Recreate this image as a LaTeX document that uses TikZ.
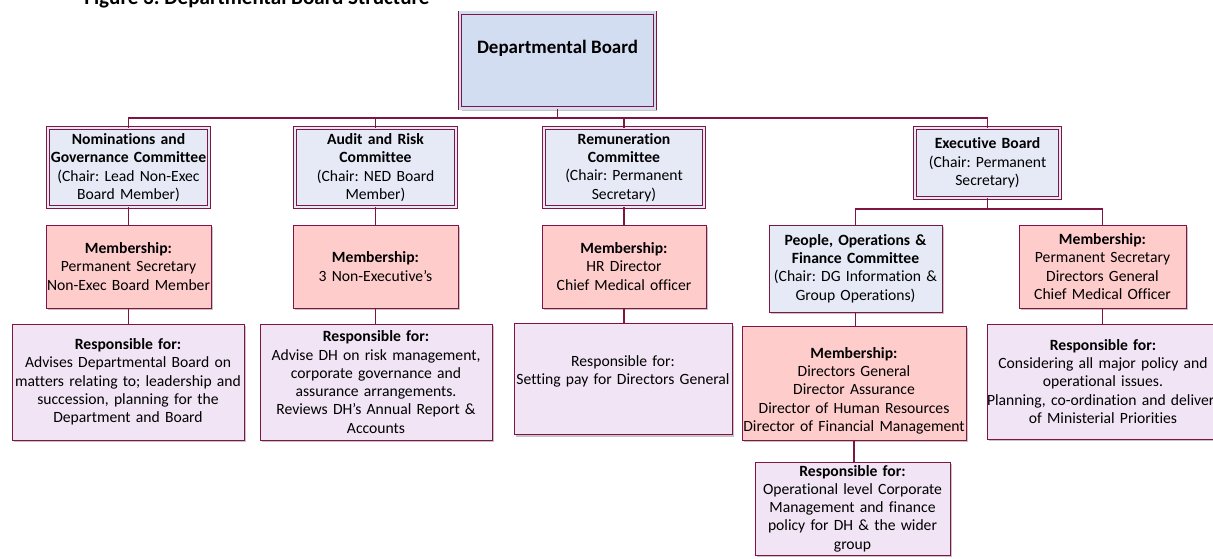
\documentclass[tikz,border=0pt]{standalone}
\usepackage{fontspec}
\setmainfont{Carlito}[Ligatures=NoCommon]
\usepackage{xcolor}
\usepackage{tikz}
\usetikzlibrary{shadows}

\definecolor{linkred}{RGB}{128,20,66}
\definecolor{boardblue}{RGB}{211,221,242}
\definecolor{cttblue}{RGB}{230,234,247}
\definecolor{mempink}{RGB}{255,204,204}
\definecolor{resplilac}{RGB}{241,228,245}
\frenchspacing

\begin{document}
\begin{tikzpicture}[x=0.02cm,y=-0.02cm,
font=\fontsize{8.9}{10.4}\selectfont,
every node/.style={inner sep=0pt,align=center},
base/.style={draw=linkred,line width=0.5pt,
  drop shadow={shadow xshift=1.4pt,shadow yshift=-1.4pt,fill=black!45}},
ctt/.style={base,fill=cttblue,double=cttblue,double distance=1.5pt},
sub/.style={base,fill=cttblue},
mem/.style={base,fill=mempink},
resp/.style={base,fill=resplilac},
link/.style={draw=linkred,line width=1.1pt}
]
\useasboundingbox (0,0) rectangle (1213,558);
\node[anchor=base west,font=\bfseries\fontsize{12}{14}\selectfont] (title) at (84,4.5) {Figure 3: Departmental Board Structure};

\node[ctt,fill=boardblue,double=boardblue,font=\bfseries\fontsize{10.8}{13}\selectfont,
  minimum width=3.9cm,text height=23.2pt,text depth=31.2pt] (dept) at (557.5,60.5) {Departmental Board};

\node[ctt,minimum width=3.22cm,minimum height=1.58cm,text width=3.2cm] (nom) at (128.5,167.5)
  {\textbf{Nominations and}\\\textbf{Governance Committee}\\(Chair: Lead Non-Exec\\Board Member)};
\node[ctt,minimum width=3.22cm,minimum height=1.58cm,text width=3.2cm] (audit) at (375.5,167.5)
  {\textbf{Audit and Risk}\\\textbf{Committee}\\(Chair: NED Board\\Member)};
\node[ctt,minimum width=3.2cm,minimum height=1.58cm,text width=3.18cm] (remun) at (624,167.5)
  {\textbf{Remuneration}\\\textbf{Committee}\\(Chair: Permanent\\Secretary)};
\node[ctt,minimum width=2.9cm,minimum height=1.4cm,text width=2.88cm] (exec) at (987.5,163)
  {\textbf{Executive Board}\\(Chair: Permanent\\Secretary)};

\node[mem,minimum width=3.3cm,minimum height=1.66cm,text width=3.3cm] (nommem) at (128.5,266.5)
  {\textbf{Membership:}\\Permanent Secretary\\Non-Exec Board Member};
\node[mem,minimum width=3.3cm,minimum height=1.66cm,text width=3.3cm] (auditmem) at (375.5,266.5)
  {\textbf{Membership:}\\3 Non-Executive’s};
\node[mem,minimum width=3.28cm,minimum height=1.66cm,text width=3.28cm] (remunmem) at (624,266.5)
  {\textbf{Membership:}\\HR Director\\Chief Medical officer};
\node[sub,minimum width=3.46cm,minimum height=1.74cm,text width=3.46cm] (pof) at (855.5,268.5)
  {\textbf{People, Operations \&}\\\textbf{Finance Committee}\\(Chair: DG Information \&\\Group Operations)};
\node[mem,minimum width=3.34cm,minimum height=1.66cm,text width=3.34cm] (exmem) at (1102.5,266.5)
  {\textbf{Membership:}\\Permanent Secretary\\Directors General\\Chief Medical Officer};

\node[resp,minimum width=4.64cm,minimum height=2.32cm,text width=4.64cm] (nomresp) at (128,382)
  {\textbf{Responsible for:}\\Advises Departmental Board on\\matters relating to; leadership and\\succession, planning for the\\Department and Board};
\node[resp,minimum width=4.64cm,minimum height=2.32cm,text width=4.64cm] (auditresp) at (376,382)
  {\textbf{Responsible for:}\\Advise DH on risk management,\\corporate governance and\\assurance arrangements.\\Reviews DH’s Annual Report \&\\Accounts};
\node[resp,minimum width=4.36cm,minimum height=2.22cm,text width=4.36cm] (remunresp) at (623,379)
  {Responsible for:\\Setting pay for Directors General\\\mbox{}};
\node[mem,minimum width=4.48cm,minimum height=2.28cm,text width=4.48cm] (pofmem) at (854,383)
  {\mbox{}\\[4.5pt]\textbf{Membership:}\\Directors General\\Director Assurance\\Director of Human Resources\\Director of Financial Management};
\node[resp,minimum width=4.64cm,minimum height=2.3cm,text width=4.64cm] (exresp) at (1103,381.5)
  {\textbf{Responsible for:}\\Considering all major policy and\\operational issues.\\\mbox{Planning, co-ordination and delivery}\\of Ministerial Priorities};
\node[resp,minimum width=3.9cm,minimum height=1.86cm,text width=3.9cm] (pofresp) at (852.5,508.5)
  {\textbf{Responsible for:}\\Operational level Corporate\\Management and finance\\policy for DH \& the wider\\group};

\coordinate (bus) at (0,118);
\coordinate (exbus) at (0,209);
\draw[link] (nom.north) -- (nom.north |- bus) -- (exec.north |- bus) -- (exec.north);
\draw[link] (dept.south) -- (dept.south |- bus);
\draw[link] (audit.north) -- (audit.north |- bus);
\draw[link] (remun.north) -- (remun.north |- bus);
\draw[link] (exec.south) -- (exec.south |- exbus);
\draw[link] (pof.north) -- (pof.north |- exbus) -- (exmem.north |- exbus) -- (exmem.north);
\foreach \a/\b in {nom/nommem,nommem/nomresp,audit/auditmem,auditmem/auditresp,remun/remunmem,
  remunmem/remunresp,pof/pofmem,pofmem/pofresp,exmem/exresp}
  \draw[link] (\a.south) -- (\a.south |- \b.north);
\end{tikzpicture}
\end{document}
